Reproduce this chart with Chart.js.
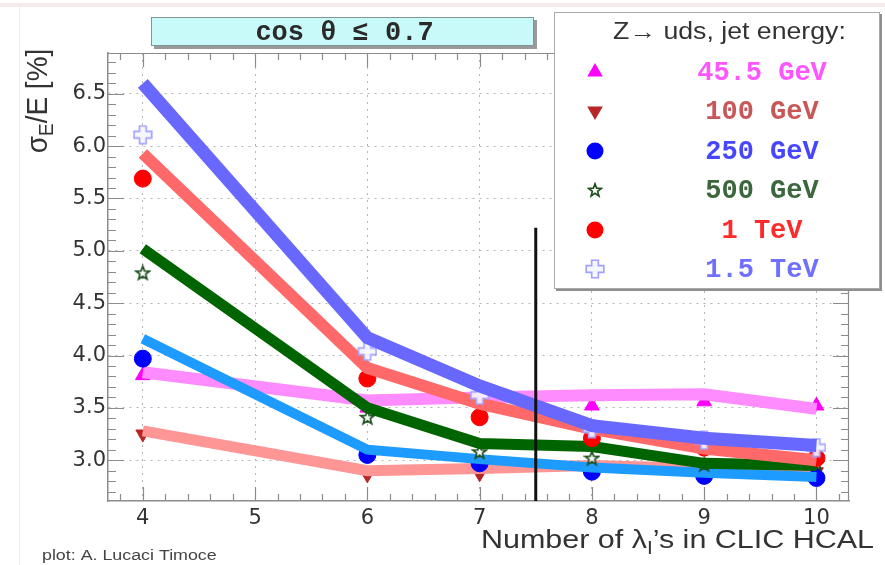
<!DOCTYPE html>
<html><head><meta charset="utf-8">
<script src="https://cdn.jsdelivr.net/npm/chart.js@4.4.1/dist/chart.umd.min.js"></script>
<style>html,body{margin:0;padding:0;background:#fff;overflow:hidden}#wrap{width:885px;height:565px;position:relative}</style>
</head><body><div id="wrap"><canvas id="c" width="885" height="565"></canvas></div>
<script>
// ---------- data ----------
const xValues = [4, 6, 7, 8, 9, 10];
const seriesNames = ['45.5 GeV', '100 GeV', '250 GeV', '500 GeV', '1 TeV', '1.5 TeV'];
// measured points (markers)
const pts455  = [3.81, 3.50, 3.58, 3.52, 3.56, 3.52];
const pts100  = [3.25, 2.86, 2.87, 2.90, 2.88, 2.89];
const pts250  = [3.97, 3.05, 2.97, 2.89, 2.85, 2.83];
const pts500  = [4.79, 3.41, 3.08, 3.02, 2.96, 2.97];
const pts1000 = [5.69, 3.78, 3.41, 3.21, 3.12, 3.02];
const pts1500 = [6.11, 4.04, 3.62, 3.30, 3.19, 3.12];
// thick bands (lines)
const band455  = [3.84, 3.57, 3.60, 3.62, 3.63, 3.49];
const band100  = [3.28, 2.90, 2.92, 2.95, 2.92, 2.92];
const band250  = [4.16, 3.10, 3.01, 2.93, 2.88, 2.84];
const band500  = [5.02, 3.50, 3.16, 3.13, 2.97, 2.95];
const band1000 = [5.93, 3.88, 3.54, 3.30, 3.11, 3.00];
const band1500 = [6.60, 4.17, 3.71, 3.33, 3.21, 3.14];
// vertical cut line
const cutX = [7.5, 7.5];
const cutY = [5.22, 2.61];
// axes
const xTicks = [4, 5, 6, 7, 8, 9, 10];
const yTicks = [3.0, 3.5, 4.0, 4.5, 5.0, 5.5, 6.0, 6.5];
const xRange = [3.69, 10.29];
const yRange = [2.61, 6.89];

const allPts = [pts455, pts100, pts250, pts500, pts1000, pts1500];
const allBands = [band455, band100, band250, band500, band1000, band1500];

// ---------- styles ----------
const bandColors = ['#ff8cff', '#ff9696', '#1e9bff', '#006400', '#ff6969', '#6868ff'];
const bandWidths = [12, 11, 10, 11, 12, 13];
const markerColors = ['#ff00ff', '#b82525', '#0000ff', '#1f4f1f', '#ff0000', '#a0a0ff'];
const legendTextColors = ['#ff55ff', '#c85858', '#4646ff', '#3c663c', '#ff2a2a', '#7070ff'];

function makeStar(size, stroke) {
  const c = document.createElement('canvas'); c.width = c.height = size;
  const g = c.getContext('2d'); const cx = size / 2, cy = size / 2 + 0.5, R = size / 2 - 1.3, r = R * 0.42;
  g.beginPath();
  for (let i = 0; i < 10; i++) { const a = -Math.PI / 2 + i * Math.PI / 5; const rr = i % 2 ? r : R; g.lineTo(cx + rr * Math.cos(a), cy + rr * Math.sin(a)); }
  g.closePath(); g.fillStyle = 'rgba(255,255,255,0.85)'; g.fill();
  g.strokeStyle = stroke; g.lineWidth = 1.7; g.stroke();
  return c;
}
function makeCross(size, stroke) {
  const c = document.createElement('canvas'); c.width = c.height = size;
  const g = c.getContext('2d'); const cx = size / 2, cy = size / 2, R = size / 2 - 1.2, a = R * 0.38;
  const p = [[-a,-R],[a,-R],[a,-a],[R,-a],[R,a],[a,a],[a,R],[-a,R],[-a,a],[-R,a],[-R,-a],[-a,-a]];
  g.beginPath(); p.forEach(([x, y]) => g.lineTo(cx + x, cy + y)); g.closePath();
  g.fillStyle = 'rgba(245,245,255,0.9)'; g.fill();
  g.strokeStyle = stroke; g.lineWidth = 1.6; g.stroke();
  return c;
}
const starImg = makeStar(17, markerColors[3]);
const crossImg = makeCross(20, markerColors[5]);
const starImgLeg = makeStar(16, markerColors[3]);
const crossImgLeg = makeCross(20, markerColors[5]);

const pointStyles = ['triangle', 'triangle', 'circle', starImg, 'circle', crossImg];
const pointRotations = [0, 180, 0, 0, 0, 0];
const pointRadii = [8.5, 8, 8.5, 8, 8.5, 9];

const datasets = [];
allPts.forEach((vals, i) => {
  datasets.push({
    label: seriesNames[i] + ' points',
    data: xValues.map((x, k) => ({ x: x, y: vals[k] })),
    showLine: false,
    pointStyle: pointStyles[i], rotation: pointRotations[i],
    pointRadius: pointRadii[i], pointHoverRadius: pointRadii[i],
    backgroundColor: markerColors[i], borderColor: markerColors[i], borderWidth: 1,
    order: 100 - 2 * i
  });
  datasets.push({
    label: seriesNames[i] + ' band',
    data: xValues.map((x, k) => ({ x: x, y: allBands[i][k] })),
    showLine: true, pointRadius: 0, pointHoverRadius: 0,
    borderColor: bandColors[i], borderWidth: bandWidths[i], backgroundColor: bandColors[i],
    borderCapStyle: 'butt', borderJoinStyle: 'miter', tension: 0, fill: false,
    order: 99 - 2 * i
  });
});
datasets.push({
  label: 'cut', data: cutX.map((x, k) => ({ x: x, y: cutY[k] })),
  showLine: true, pointRadius: 0, borderColor: '#111', borderWidth: 3, borderCapStyle: 'butt', order: 1
});

// ---------- helpers ----------
const SANS = '"Liberation Sans", Arial, sans-serif';
const MONO = '"Liberation Mono", "Courier New", monospace';
function runsWidth(ctx, runs) {
  let w = 0; runs.forEach(r => { ctx.font = r.font; w += ctx.measureText(r.t).width; }); return w;
}
function drawRuns(ctx, runs, x, y, color) {
  let cx = x; ctx.fillStyle = color; ctx.textAlign = 'left'; ctx.textBaseline = 'alphabetic';
  runs.forEach(r => { ctx.font = r.font; ctx.fillText(r.t, cx, y + (r.dy || 0)); cx += ctx.measureText(r.t).width; });
}
function drawMarker(ctx, i, x, y) {
  ctx.save();
  ctx.fillStyle = markerColors[i]; ctx.strokeStyle = markerColors[i];
  if (i === 0 || i === 1) {
    const r = 9; const sgn = i === 0 ? 1 : -1;
    ctx.beginPath();
    for (let k = 0; k < 3; k++) { const a = -Math.PI / 2 + k * 2 * Math.PI / 3; ctx.lineTo(x + r * Math.cos(a), y + sgn * r * Math.sin(a)); }
    ctx.closePath(); ctx.fill();
  } else if (i === 2 || i === 4) {
    ctx.beginPath(); ctx.arc(x, y, 8.5, 0, Math.PI * 2); ctx.fill();
  } else if (i === 3) {
    ctx.drawImage(starImgLeg, x - starImgLeg.width / 2, y - starImgLeg.height / 2);
  } else {
    ctx.drawImage(crossImgLeg, x - crossImgLeg.width / 2, y - crossImgLeg.height / 2);
  }
  ctx.restore();
}

const decor = {
  id: 'decor',
  beforeDraw(chart) {
    const ctx = chart.ctx; ctx.save();
    ctx.fillStyle = '#fff'; ctx.fillRect(0, 0, chart.width, chart.height);
    ctx.fillStyle = '#f6eaea'; ctx.fillRect(0, 3, chart.width, 4);
    ctx.fillStyle = '#f5eaea'; ctx.fillRect(19, 7, 1, chart.height - 7);
    ctx.restore();
  },
  afterDatasetsDraw(chart) {
    const ctx = chart.ctx, a = chart.chartArea, xs = chart.scales.x, ys = chart.scales.y;
    ctx.save();
    ctx.strokeStyle = '#8c8c8c'; ctx.lineWidth = 1.2;
    // frame top and right
    ctx.beginPath(); ctx.moveTo(a.left, a.top + 0.5); ctx.lineTo(a.right, a.top + 0.5);
    ctx.moveTo(a.right - 0.5, a.top); ctx.lineTo(a.right - 0.5, a.bottom); ctx.stroke();
    // y ticks (0.1 steps), inward on both sides
    ctx.beginPath();
    for (let k = Math.ceil(yRange[0] * 10); k <= Math.floor(yRange[1] * 10); k++) {
      const py = Math.round(ys.getPixelForValue(k / 10)) + 0.5;
      const len = (k % 5 === 0) ? 16 : 8;
      ctx.moveTo(a.left, py); ctx.lineTo(a.left + len, py);
      ctx.moveTo(a.right, py); ctx.lineTo(a.right - len, py);
    }
    // x ticks (0.2 steps)
    for (let k = Math.ceil(xRange[0] * 5); k <= Math.floor(xRange[1] * 5); k++) {
      const px = Math.round(xs.getPixelForValue(k / 5)) + 0.5;
      const len = (k % 5 === 0) ? 14 : 7;
      ctx.moveTo(px, a.bottom); ctx.lineTo(px, a.bottom - len);
      ctx.moveTo(px, a.top); ctx.lineTo(px, a.top + len);
    }
    ctx.stroke();
    ctx.restore();
  },
  afterDraw(chart) {
    const ctx = chart.ctx;
    ctx.save();
    // title pave
    const tb = { x: 151, y: 17, w: 383, h: 29 };
    ctx.fillStyle = '#9a9a9a'; ctx.fillRect(tb.x + 3, tb.y + 3, tb.w, tb.h);
    ctx.fillStyle = '#c8fafa'; ctx.fillRect(tb.x, tb.y, tb.w, tb.h);
    ctx.strokeStyle = '#7f9696'; ctx.lineWidth = 1; ctx.strokeRect(tb.x + 0.5, tb.y + 0.5, tb.w - 1, tb.h - 1);
    ctx.font = 'bold 27px ' + MONO; ctx.fillStyle = '#2a2a2a'; ctx.textAlign = 'center'; ctx.textBaseline = 'middle';
    ctx.fillText('cos \u03b8 \u2264 0.7', tb.x + tb.w / 2 + 2, tb.y + tb.h / 2 + 2);

    // legend pave
    const lb = { x: 554, y: 12, w: 326, h: 277 };
    ctx.fillStyle = '#8e8e8e'; ctx.fillRect(lb.x + 2, lb.y + 2, lb.w, lb.h);
    ctx.fillStyle = '#fff'; ctx.fillRect(lb.x, lb.y, lb.w, lb.h);
    ctx.strokeStyle = '#a8a8a8'; ctx.lineWidth = 1; ctx.strokeRect(lb.x + 0.5, lb.y + 0.5, lb.w - 1, lb.h - 1);
    // legend title (stretched sans)
    ctx.save(); ctx.translate(613, 39); ctx.scale(1.16, 1);
    ctx.font = '23px ' + SANS; ctx.fillStyle = '#333'; ctx.textAlign = 'left'; ctx.textBaseline = 'alphabetic';
    ctx.fillText('Z\u2192 uds, jet energy:', 0, 0); ctx.restore();
    const rowY = [72, 111, 151, 190, 230, 269];
    seriesNames.forEach((n, i) => {
      drawMarker(ctx, i, 595, rowY[i]);
      ctx.font = 'bold 27px ' + MONO; ctx.fillStyle = legendTextColors[i]; ctx.textAlign = 'center'; ctx.textBaseline = 'middle';
      ctx.fillText(n, 762, rowY[i] + 1);
    });

    // x title
    const F = 26.5, sx = 1.15;
    const xr = [{ t: 'Number of \u03bb', font: F + 'px ' + SANS }, { t: 'I', font: (F * 0.68).toFixed(1) + 'px ' + SANS, dy: 6 }, { t: '\u2019s in CLIC HCAL', font: F + 'px ' + SANS }];
    const xw = runsWidth(ctx, xr) * sx;
    ctx.save(); ctx.translate(874 - xw, 548); ctx.scale(sx, 1); drawRuns(ctx, xr, 0, 0, '#333'); ctx.restore();

    // y title (rotated)
    const G = 28;
    const yr = [{ t: '\u03c3', font: G + 'px ' + SANS }, { t: 'E', font: (G * 0.68).toFixed(1) + 'px ' + SANS, dy: 6 }, { t: '/E [%]', font: G + 'px ' + SANS }];
    const yw = runsWidth(ctx, yr);
    ctx.save(); ctx.translate(47, 101); ctx.rotate(-Math.PI / 2); ctx.scale(1, 1.08); drawRuns(ctx, yr, -yw / 2, 0, '#333'); ctx.restore();

    // credit
    ctx.save(); ctx.translate(42, 560); ctx.scale(1.15, 1);
    ctx.font = '15.5px ' + SANS; ctx.fillStyle = '#444'; ctx.textAlign = 'left'; ctx.textBaseline = 'alphabetic';
    ctx.fillText('plot: A. Lucaci Timoce', 0, 0); ctx.restore();
    ctx.restore();
  }
};

new Chart(document.getElementById('c'), {
  type: 'scatter',
  data: { datasets: datasets },
  options: {
    responsive: false, animation: false, devicePixelRatio: 1,
    layout: { padding: { left: 0, right: 36, top: 53, bottom: 0 } },
    plugins: { legend: { display: false }, tooltip: { enabled: false } },
    scales: {
      x: {
        type: 'linear', min: xRange[0], max: xRange[1],
        afterBuildTicks: s => { s.ticks = xTicks.map(v => ({ value: v })); },
        afterFit: s => { s.height = 64; },
        ticks: { font: { family: 'DejaVu Sans', size: 21 }, color: '#333', padding: 5, maxRotation: 0, autoSkip: false, callback: v => String(v) },
        grid: { drawTicks: false, color: '#b4b4b4', lineWidth: 1 },
        border: { display: true, color: '#8c8c8c', width: 1.5, dash: [2, 5] }
      },
      y: {
        type: 'linear', min: yRange[0], max: yRange[1],
        afterBuildTicks: s => { s.ticks = yTicks.map(v => ({ value: v })); },
        afterFit: s => { s.width = 108; },
        ticks: { font: { family: 'DejaVu Sans', size: 21 }, color: '#333', padding: 2, autoSkip: false, callback: v => Number(v).toFixed(1) },
        grid: { drawTicks: false, color: '#b4b4b4', lineWidth: 1 },
        border: { display: true, color: '#8c8c8c', width: 1.5, dash: [2, 5] }
      }
    }
  },
  plugins: [decor]
});
</script></body></html>
